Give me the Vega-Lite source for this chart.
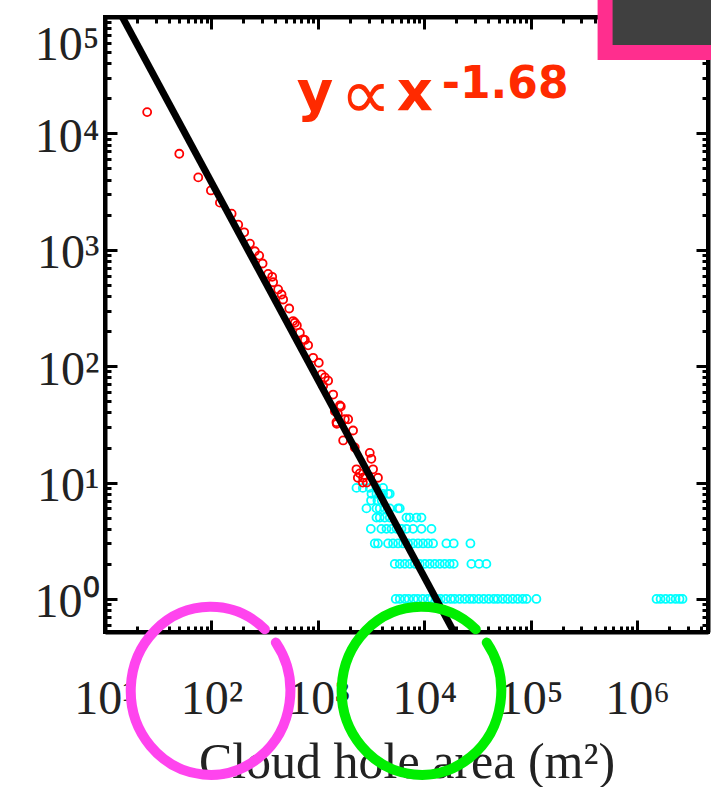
{
  "$schema": "https://vega.github.io/schema/vega-lite/v6.json",
  "width": 603,
  "height": 615,
  "autosize": {"type": "none"},
  "padding": {"left": 105, "top": 17, "right": 3, "bottom": 155},
  "background": "white",
  "config": {
    "view": {"stroke": "black", "strokeWidth": 4},
    "axis": {
      "grid": false,
      "domainColor": "black",
      "domainWidth": 4,
      "ticks": true,
      "tickColor": "black",
      "tickWidth": 3,
      "labelFont": "Liberation Serif",
      "labelFontSize": 48,
      "labelColor": "#222222",
      "titleFont": "Liberation Serif",
      "titleColor": "#222222"
    }
  },
  "datasets": {
    "holes": [
      {"area": 2307, "count": 9, "group": "small"}, {"area": 2649, "count": 9, "group": "small"}, {"area": 3076, "count": 9, "group": "small"}, {"area": 3556, "count": 9, "group": "small"}, {"area": 4102, "count": 9, "group": "small"},
      {"area": 3192, "count": 8, "group": "small"}, {"area": 3556, "count": 8, "group": "small"}, {"area": 4102, "count": 8, "group": "small"}, {"area": 4571, "count": 8, "group": "small"}, {"area": 4742, "count": 8, "group": "small"},
      {"area": 3162, "count": 7, "group": "small"}, {"area": 3631, "count": 7, "group": "small"}, {"area": 3981, "count": 7, "group": "small"},
      {"area": 2864, "count": 6, "group": "small"}, {"area": 3556, "count": 6, "group": "small"}, {"area": 3819, "count": 6, "group": "small"}, {"area": 4256, "count": 6, "group": "small"}, {"area": 4742, "count": 6, "group": "small"}, {"area": 5675, "count": 6, "group": "small"}, {"area": 5888, "count": 6, "group": "small"},
      {"area": 3556, "count": 5, "group": "small"}, {"area": 3819, "count": 5, "group": "small"}, {"area": 4256, "count": 5, "group": "small"}, {"area": 4742, "count": 5, "group": "small"}, {"area": 6808, "count": 5, "group": "small"}, {"area": 7311, "count": 5, "group": "small"}, {"area": 8453, "count": 5, "group": "small"}, {"area": 9419, "count": 5, "group": "small"},
      {"area": 3148, "count": 4, "group": "small"}, {"area": 3954, "count": 4, "group": "small"}, {"area": 4416, "count": 4, "group": "small"}, {"area": 4920, "count": 4, "group": "small"}, {"area": 5483, "count": 4, "group": "small"}, {"area": 6109, "count": 4, "group": "small"}, {"area": 6808, "count": 4, "group": "small"}, {"area": 7852, "count": 4, "group": "small"}, {"area": 9419, "count": 4, "group": "small"}, {"area": 11690, "count": 4, "group": "small"},
      {"area": 3428, "count": 3, "group": "small"}, {"area": 3673, "count": 3, "group": "small"}, {"area": 4571, "count": 3, "group": "small"}, {"area": 5093, "count": 3, "group": "small"}, {"area": 5675, "count": 3, "group": "small"}, {"area": 6324, "count": 3, "group": "small"}, {"area": 7047, "count": 3, "group": "small"}, {"area": 7852, "count": 3, "group": "small"}, {"area": 8750, "count": 3, "group": "small"}, {"area": 9750, "count": 3, "group": "small"}, {"area": 10860, "count": 3, "group": "small"}, {"area": 12110, "count": 3, "group": "small"}, {"area": 16140, "count": 3, "group": "small"}, {"area": 18920, "count": 3, "group": "small"}, {"area": 27160, "count": 3, "group": "small"},
      {"area": 5284, "count": 2, "group": "small"}, {"area": 5888, "count": 2, "group": "small"}, {"area": 6561, "count": 2, "group": "small"}, {"area": 7311, "count": 2, "group": "small"}, {"area": 8147, "count": 2, "group": "small"}, {"area": 9078, "count": 2, "group": "small"}, {"area": 10120, "count": 2, "group": "small"}, {"area": 11270, "count": 2, "group": "small"}, {"area": 12560, "count": 2, "group": "small"}, {"area": 14000, "count": 2, "group": "small"}, {"area": 15560, "count": 2, "group": "small"}, {"area": 17340, "count": 2, "group": "small"}, {"area": 18920, "count": 2, "group": "small"}, {"area": 27730, "count": 2, "group": "small"}, {"area": 32730, "count": 2, "group": "small"}, {"area": 38370, "count": 2, "group": "small"},
      {"area": 5395, "count": 1, "group": "small"}, {"area": 5888, "count": 1, "group": "small"}, {"area": 6561, "count": 1, "group": "small"}, {"area": 7145, "count": 1, "group": "small"}, {"area": 7962, "count": 1, "group": "small"}, {"area": 8690, "count": 1, "group": "small"}, {"area": 9683, "count": 1, "group": "small"}, {"area": 10790, "count": 1, "group": "small"}, {"area": 11750, "count": 1, "group": "small"}, {"area": 13090, "count": 1, "group": "small"}, {"area": 14290, "count": 1, "group": "small"}, {"area": 15920, "count": 1, "group": "small"}, {"area": 17740, "count": 1, "group": "small"}, {"area": 19320, "count": 1, "group": "small"}, {"area": 21530, "count": 1, "group": "small"}, {"area": 23990, "count": 1, "group": "small"}, {"area": 26730, "count": 1, "group": "small"}, {"area": 29170, "count": 1, "group": "small"}, {"area": 32510, "count": 1, "group": "small"}, {"area": 36220, "count": 1, "group": "small"}, {"area": 40360, "count": 1, "group": "small"}, {"area": 44980, "count": 1, "group": "small"}, {"area": 48980, "count": 1, "group": "small"}, {"area": 54580, "count": 1, "group": "small"}, {"area": 60810, "count": 1, "group": "small"}, {"area": 67760, "count": 1, "group": "small"}, {"area": 75510, "count": 1, "group": "small"}, {"area": 84140, "count": 1, "group": "small"}, {"area": 91620, "count": 1, "group": "small"}, {"area": 113200, "count": 1, "group": "small"}, {"area": 1524000, "count": 1, "group": "small"}, {"area": 1663000, "count": 1, "group": "small"}, {"area": 1854000, "count": 1, "group": "small"}, {"area": 2065000, "count": 1, "group": "small"}, {"area": 2301000, "count": 1, "group": "small"}, {"area": 2506000, "count": 1, "group": "small"}, {"area": 2673000, "count": 1, "group": "small"},
      {"area": 24.9, "count": 15240, "group": "large"}, {"area": 49.9, "count": 6683, "group": "large"}, {"area": 75.2, "count": 4188, "group": "large"}, {"area": 98.9, "count": 3236, "group": "large"}, {"area": 120.2, "count": 2541, "group": "large"}, {"area": 154.9, "count": 2042, "group": "large"}, {"area": 178.6, "count": 1644, "group": "large"}, {"area": 203.2, "count": 1413, "group": "large"}, {"area": 230.1, "count": 1130, "group": "large"}, {"area": 255.9, "count": 971, "group": "large"}, {"area": 281.2, "count": 891, "group": "large"}, {"area": 302.7, "count": 762, "group": "large"}, {"area": 341.2, "count": 621, "group": "large"}, {"area": 372.4, "count": 586, "group": "large"}, {"area": 380.2, "count": 526, "group": "large"}, {"area": 423.6, "count": 456, "group": "large"}, {"area": 456, "count": 413, "group": "large"}, {"area": 472.1, "count": 374, "group": "large"}, {"area": 538.3, "count": 313, "group": "large"}, {"area": 586.1, "count": 244, "group": "large"}, {"area": 608.1, "count": 236, "group": "large"}, {"area": 635.3, "count": 224, "group": "large"}, {"area": 677.5, "count": 194, "group": "large"}, {"area": 727.8, "count": 170, "group": "large"}, {"area": 755.1, "count": 168, "group": "large"}, {"area": 810.5, "count": 151, "group": "large"}, {"area": 903.6, "count": 118, "group": "large"}, {"area": 1021, "count": 107, "group": "large"}, {"area": 1084, "count": 85, "group": "large"}, {"area": 1164, "count": 80, "group": "large"}, {"area": 1122, "count": 68, "group": "large"}, {"area": 1250, "count": 75, "group": "large"}, {"area": 1393, "count": 57, "group": "large"}, {"area": 1445, "count": 41, "group": "large"}, {"area": 1542, "count": 39, "group": "large"}, {"area": 1611, "count": 46, "group": "large"}, {"area": 1644, "count": 45, "group": "large"}, {"area": 1496, "count": 33, "group": "large"}, {"area": 1507, "count": 32, "group": "large"}, {"area": 1795, "count": 35, "group": "large"}, {"area": 1928, "count": 35, "group": "large"}, {"area": 1730, "count": 23, "group": "large"}, {"area": 2143, "count": 28, "group": "large"}, {"area": 2223, "count": 20, "group": "large"}, {"area": 2307, "count": 13, "group": "large"}, {"area": 3076, "count": 18, "group": "large"}, {"area": 3184, "count": 16, "group": "large"}, {"area": 3304, "count": 13, "group": "large"}, {"area": 2477, "count": 12, "group": "large"}, {"area": 2377, "count": 11, "group": "large"}, {"area": 3673, "count": 11, "group": "large"}, {"area": 2661, "count": 11, "group": "large"}, {"area": 2649, "count": 10, "group": "large"}, {"area": 2884, "count": 10, "group": "large"}
    ],
    "fit": [
      {"area": 10, "count": 188800},
      {"area": 31620, "count": 0.2193}
    ]
  },
  "layer": [
    {
      "data": {"name": "holes"},
      "mark": {"type": "point", "shape": "circle", "filled": false, "size": 64, "strokeWidth": 1.8, "opacity": 1},
      "encoding": {
        "x": {
          "field": "area", "type": "quantitative",
          "scale": {"type": "log", "domain": [10, 4640000], "nice": false},
          "axis": {
            "orient": "bottom",
            "values": [10,20,30,40,50,60,70,80,90,100,200,300,400,500,600,700,800,900,1000,2000,3000,4000,5000,6000,7000,8000,9000,10000,20000,30000,40000,50000,60000,70000,80000,90000,100000,200000,300000,400000,500000,600000,700000,800000,900000,1000000,2000000,3000000,4000000],
            "labelExpr": "abs(log(datum.value)/LN10 - round(log(datum.value)/LN10)) < 0.001 ? '10' + ['⁰','¹','²','³','⁴','⁵','⁶'][round(log(datum.value)/LN10)] : ''",
            "labelOverlap": false, "labelFlush": false, "labelBound": false,
            "labelBaseline": "top", "labelPadding": 49,
            "tickSize": -6,
            "title": "Cloud hole area (m²)", "titleFontSize": 50, "titleFontWeight": "normal",
            "titleY": 145, "titleBaseline": "alphabetic"
          }
        },
        "y": {
          "field": "count", "type": "quantitative",
          "scale": {"type": "log", "domain": [0.52, 100000], "nice": false},
          "axis": {
            "orient": "left",
            "values": [0.6,0.7,0.8,0.9,1,2,3,4,5,6,7,8,9,10,20,30,40,50,60,70,80,90,100,200,300,400,500,600,700,800,900,1000,2000,3000,4000,5000,6000,7000,8000,9000,10000,20000,30000,40000,50000,60000,70000,80000,90000,100000],
            "labelExpr": "abs(log(datum.value)/LN10 - round(log(datum.value)/LN10)) < 0.001 ? '10' + ['⁰','¹','²','³','⁴','⁵','⁶'][round(log(datum.value)/LN10)] : ''",
            "labelOverlap": false, "labelFlush": true, "labelFlushOffset": 0, "labelBound": false,
            "labelPadding": 12, "labelOffset": 4,
            "tickSize": -6,
            "title": null
          }
        },
        "color": {
          "field": "group", "type": "nominal",
          "scale": {"domain": ["small", "large"], "range": ["#00ffff", "#ff0000"]},
          "legend": null
        }
      }
    },
    {
      "data": {"name": "fit"},
      "mark": {"type": "line", "color": "black", "strokeWidth": 7, "clip": true},
      "encoding": {
        "x": {"field": "area", "type": "quantitative", "scale": {"type": "log", "domain": [10, 4640000], "nice": false}, "axis": null},
        "y": {"field": "count", "type": "quantitative", "scale": {"type": "log", "domain": [0.52, 100000], "nice": false}, "axis": null}
      }
    },
    {
      "data": {"name": "fit"},
      "mark": {"type": "point", "opacity": 0, "clip": true},
      "encoding": {
        "x": {
          "field": "area", "type": "quantitative",
          "scale": {"type": "log", "domain": [10, 4640000], "nice": false},
          "axis": {"orient": "bottom", "labels": false, "title": null, "domain": false, "values": [10,100,1000,10000,100000,1000000], "tickSize": -12}
        },
        "y": {
          "field": "count", "type": "quantitative",
          "scale": {"type": "log", "domain": [0.52, 100000], "nice": false},
          "axis": {"orient": "left", "labels": false, "title": null, "domain": false, "values": [1,10,100,1000,10000,100000], "tickSize": -12}
        }
      }
    },
    {
      "data": {"name": "fit"},
      "mark": {"type": "point", "opacity": 0, "clip": true},
      "encoding": {
        "x": {
          "field": "area", "type": "quantitative",
          "scale": {"type": "log", "domain": [10, 4640000], "nice": false},
          "axis": {
            "orient": "top", "labels": false, "title": null,
            "values": [10,20,30,40,50,60,70,80,90,100,200,300,400,500,600,700,800,900,1000,2000,3000,4000,5000,6000,7000,8000,9000,10000,20000,30000,40000,50000,60000,70000,80000,90000,100000,200000,300000,400000,500000,600000,700000,800000,900000,1000000,2000000,3000000,4000000],
            "tickSize": -6
          }
        },
        "y": {
          "field": "count", "type": "quantitative",
          "scale": {"type": "log", "domain": [0.52, 100000], "nice": false},
          "axis": {
            "orient": "right", "labels": false, "title": null,
            "values": [0.6,0.7,0.8,0.9,1,2,3,4,5,6,7,8,9,10,20,30,40,50,60,70,80,90,100,200,300,400,500,600,700,800,900,1000,2000,3000,4000,5000,6000,7000,8000,9000,10000,20000,30000,40000,50000,60000,70000,80000,90000,100000],
            "tickSize": -6
          }
        }
      }
    },
    {
      "data": {"name": "fit"},
      "mark": {"type": "point", "opacity": 0, "clip": true},
      "encoding": {
        "x": {
          "field": "area", "type": "quantitative",
          "scale": {"type": "log", "domain": [10, 4640000], "nice": false},
          "axis": {"orient": "top", "labels": false, "title": null, "domain": false, "values": [10,100,1000,10000,100000,1000000], "tickSize": -12}
        },
        "y": {
          "field": "count", "type": "quantitative",
          "scale": {"type": "log", "domain": [0.52, 100000], "nice": false},
          "axis": {"orient": "right", "labels": false, "title": null, "domain": false, "values": [1,10,100,1000,10000,100000], "tickSize": -12}
        }
      }
    },
    {
      "data": {"values": [{}]},
      "mark": {"type": "text", "text": "y", "font": "DejaVu Sans", "fontWeight": "bold", "fontSize": 56, "align": "left", "baseline": "alphabetic", "color": "#ff2a00"},
      "encoding": {
        "x": {"datum": 635, "type": "quantitative", "scale": {"type": "log", "domain": [10, 4640000], "nice": false}, "axis": null},
        "y": {"datum": 15930, "type": "quantitative", "scale": {"type": "log", "domain": [0.52, 100000], "nice": false}, "axis": null}
      }
    },
    {
      "data": {"values": [{}]},
      "mark": {"type": "text", "text": "∝", "font": "DejaVu Sans", "fontWeight": "normal", "fontSize": 72, "align": "center", "baseline": "middle", "color": "#ff2a00"},
      "encoding": {
        "x": {"datum": 2825, "type": "quantitative", "scale": {"type": "log", "domain": [10, 4640000], "nice": false}, "axis": null},
        "y": {"datum": 20560, "type": "quantitative", "scale": {"type": "log", "domain": [0.52, 100000], "nice": false}, "axis": null}
      }
    },
    {
      "data": {"values": [{}]},
      "mark": {"type": "text", "text": "x", "font": "DejaVu Sans", "fontWeight": "bold", "fontSize": 56, "align": "center", "baseline": "alphabetic", "color": "#ff2a00"},
      "encoding": {
        "x": {"datum": 8147, "type": "quantitative", "scale": {"type": "log", "domain": [10, 4640000], "nice": false}, "axis": null},
        "y": {"datum": 15930, "type": "quantitative", "scale": {"type": "log", "domain": [0.52, 100000], "nice": false}, "axis": null}
      }
    },
    {
      "data": {"values": [{}]},
      "mark": {"type": "text", "text": "-1.68", "font": "DejaVu Sans", "fontWeight": "bold", "fontSize": 44, "align": "left", "baseline": "alphabetic", "color": "#ff2a00"},
      "encoding": {
        "x": {"datum": 14590, "type": "quantitative", "scale": {"type": "log", "domain": [10, 4640000], "nice": false}, "axis": null},
        "y": {"datum": 20190, "type": "quantitative", "scale": {"type": "log", "domain": [0.52, 100000], "nice": false}, "axis": null}
      }
    },
    {
      "data": {"values": [{}]},
      "mark": {"type": "point", "shape": "M0.778,-0.574A0.95,1,0,1,1,0.648,-0.731", "filled": false, "size": 28224, "stroke": "#ff44ee", "strokeWidth": 10, "strokeCap": "round", "opacity": 1},
      "encoding": {
        "x": {"datum": 98, "type": "quantitative", "scale": {"type": "log", "domain": [10, 4640000], "nice": false}, "axis": null},
        "y": {"datum": 0.1626, "type": "quantitative", "scale": {"type": "log", "domain": [0.52, 100000], "nice": false}, "axis": null}
      }
    },
    {
      "data": {"values": [{}]},
      "mark": {"type": "point", "shape": "M0.778,-0.574A0.95,1,0,1,1,0.648,-0.731", "filled": false, "size": 28224, "stroke": "#00ee00", "strokeWidth": 10, "strokeCap": "round", "opacity": 1},
      "encoding": {
        "x": {"datum": 9400, "type": "quantitative", "scale": {"type": "log", "domain": [10, 4640000], "nice": false}, "axis": null},
        "y": {"datum": 0.1626, "type": "quantitative", "scale": {"type": "log", "domain": [0.52, 100000], "nice": false}, "axis": null}
      }
    },
    {
      "data": {"values": [{}]},
      "mark": {"type": "rect", "color": "#ff2e8e"},
      "encoding": {
        "x": {"datum": 425600, "type": "quantitative", "scale": {"type": "log", "domain": [10, 4640000], "nice": false}, "axis": null},
        "x2": {"datum": 7400000},
        "y": {"datum": 42760, "type": "quantitative", "scale": {"type": "log", "domain": [0.52, 100000], "nice": false}, "axis": null},
        "y2": {"datum": 207500}
      }
    },
    {
      "data": {"values": [{}]},
      "mark": {"type": "rect", "color": "#404040"},
      "encoding": {
        "x": {"datum": 588800, "type": "quantitative", "scale": {"type": "log", "domain": [10, 4640000], "nice": false}, "axis": null},
        "x2": {"datum": 7400000},
        "y": {"datum": 57540, "type": "quantitative", "scale": {"type": "log", "domain": [0.52, 100000], "nice": false}, "axis": null},
        "y2": {"datum": 207500}
      }
    }
  ],
  "resolve": {"axis": {"x": "independent", "y": "independent"}}
}
